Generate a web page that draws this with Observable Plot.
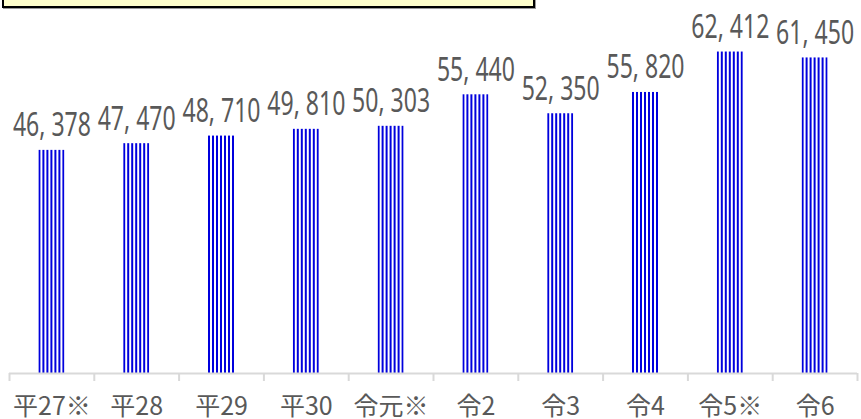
<!DOCTYPE html>
<html><head><meta charset="utf-8">
<script src="https://cdn.jsdelivr.net/npm/d3@7"></script>
<script src="https://cdn.jsdelivr.net/npm/@observablehq/plot@0.6"></script>
<style>
body{margin:0;background:#fff;}
#wrap{position:relative;width:861px;height:419px;overflow:hidden;}
#note{position:absolute;left:2px;top:-20px;width:529px;height:24px;background:#ffffcc;border:2px solid #000;box-shadow:1px 1px 0 #999;z-index:2;}
</style></head><body>
<div id="wrap"><div id="note"></div></div>
<script>
const categories = ["平27※","平28","平29","平30","令元※","令2","令3","令4","令5※","令6"];
const values = [46378, 47470, 48710, 49810, 50303, 55440, 52350, 55820, 62412, 61450];
const yDomain = [10000, 70000];

const data = categories.map((c, i) => ({cat: c, value: values[i]}));
const fmt = v => d3.format(",")(v).replace(",", ", ");

const W = 861, H = 419, mL = 9, mR = 4, mT = 5, mB = 46;
const step = (W - mL - mR) / categories.length;
const axisColor = "#d9d9d9";
const textColor = "#595959";
const numFont = "'Noto Sans', sans-serif";
const cjkFont = "'Noto Sans CJK JP', sans-serif";
const labelWidth = 78;

const chart = Plot.plot({
  width: W, height: H,
  marginTop: mT, marginBottom: mB, marginLeft: mL, marginRight: mR,
  x: {domain: categories, paddingInner: 0.6934, paddingOuter: 0.3467, round: false, label: null},
  y: {domain: yDomain, axis: null},
  style: {background: "transparent", color: textColor},
  marks: [
    Plot.barY(data, {x: "cat", y1: yDomain[0], y2: "value", fill: "url(#stripes)"}),
    Plot.ruleY([yDomain[0]], {stroke: axisColor, strokeWidth: 2}),
    Plot.ruleX(categories, {x: d => d, y1: yDomain[0], y2: yDomain[0], insetBottom: -8, dx: -step / 2, stroke: axisColor, strokeWidth: 2}),
    Plot.ruleX([categories[categories.length - 1]], {x: d => d, y1: yDomain[0], y2: yDomain[0], insetBottom: -8, dx: step / 2, stroke: axisColor, strokeWidth: 2}),
    Plot.text(data, {x: "cat", y: "value", text: d => fmt(d.value), lineAnchor: "bottom", dy: -14, fontSize: 32, fontFamily: numFont, fill: textColor, className: "vlabel"}),
    Plot.axisX({tickSize: 0, tickPadding: 24, fontSize: 25, fontFamily: cjkFont, fill: textColor, label: null})
  ]
});

const bw = chart.scale("x").bandwidth;
const svg = d3.select(chart);
const defs = svg.insert("defs", ":first-child");
const pat = defs.append("pattern")
  .attr("id", "stripes")
  .attr("patternUnits", "objectBoundingBox")
  .attr("x", 0).attr("y", 0)
  .attr("width", 4 / bw).attr("height", 1);
pat.append("rect").attr("x", 0).attr("y", 0).attr("width", 4).attr("height", 1000).attr("fill", "#ffffff");
pat.append("rect").attr("x", 0).attr("y", 0).attr("width", 2).attr("height", 1000).attr("fill", "#0000dd");

svg.selectAll(".vlabel text").attr("textLength", labelWidth).attr("lengthAdjust", "spacingAndGlyphs");

document.getElementById("wrap").appendChild(chart);
</script>
</body></html>
